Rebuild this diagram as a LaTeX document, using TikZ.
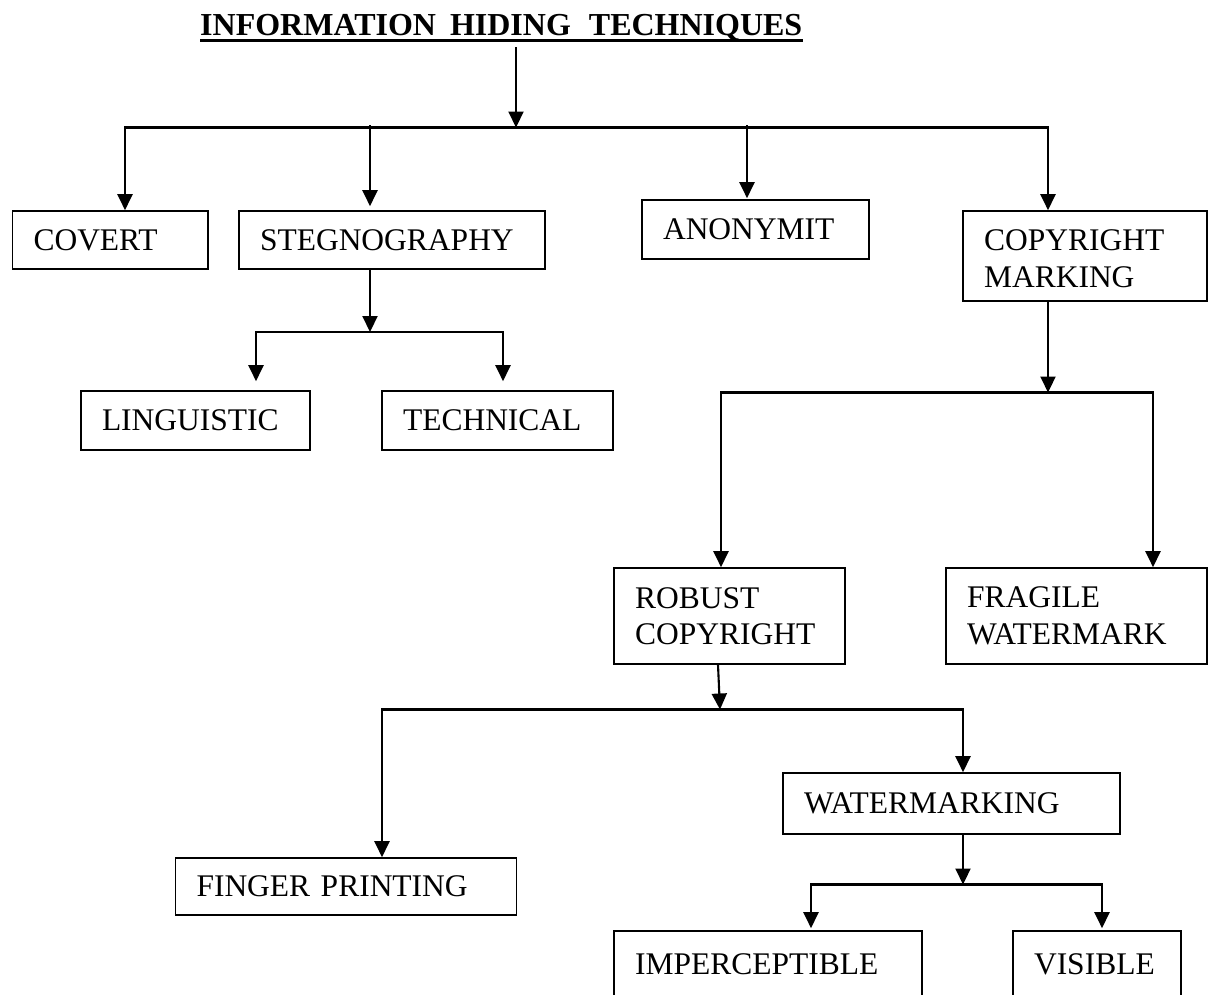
\documentclass[tikz,border=0pt]{standalone}
\usepackage{fontspec}
\setmainfont{Liberation Serif}
\usetikzlibrary{arrows.meta,calc}
\begin{document}
\begin{tikzpicture}[x=1pt,y=-1pt,
  box/.style={draw, line width=1.6pt, inner xsep=21pt, inner ysep=0pt,
    align=left, font=\fontsize{31.5}{36.5}\selectfont, anchor=center},
  link/.style={line width=2.1pt},
  bar/.style={line width=2.1pt, line cap=rect},
  arr/.style={link, -{Triangle[length=16pt,width=15pt]}},
]
\fill[white] (0,0) rectangle (1214,994);
\useasboundingbox (0,0) rectangle (1214,994);

% heading
\node[font=\bfseries\fontsize{32}{36}\selectfont, inner sep=0pt, anchor=base west]
  (title) at (200,35) {INFORMATION\hspace{14pt}HIDING\hspace{18pt}TECHNIQUES};
\draw[line width=3pt] ($(title.base west)+(0,5)$) -- ($(title.base east)+(0,5)$);

% first level
\node[box, minimum width=195.5pt, minimum height=58pt, text width=153.5pt] (covert) at (110.25,240) {COVERT};
\node[box, minimum width=306pt, minimum height=58pt, text width=264pt] (steg) at (392,240) {STEGNOGRAPHY};
\node[box, minimum width=227pt, minimum height=59pt, text width=185pt] (anon) at (755.5,229.5) {ANONYMIT};
\node[box, minimum width=244pt, minimum height=90pt, text width=202pt] (copy) at (1085,256) {\rule{0pt}{26pt}COPYRIGHT\\MARKING};

% steganography branch
\node[box, minimum width=229pt, minimum height=59pt, text width=187pt] (ling) at (195.5,420.5) {LINGUISTIC};
\node[box, minimum width=231pt, minimum height=59pt, text width=189pt] (tech) at (497.5,420.5) {TECHNICAL};

% copyright marking branch
\node[box, minimum width=231pt, minimum height=96pt, text width=189pt] (robust) at (729.5,616) {ROBUST\\COPYRIGHT};
\node[box, minimum width=261pt, minimum height=96pt, text width=219pt] (fragile) at (1076.5,616) {FRAGILE\\WATERMARK};

% robust copyright branch
\node[box, minimum width=341pt, minimum height=57pt, text width=299pt] (finger) at (346,886.5) {FINGER PRINTING};
\node[box, minimum width=337pt, minimum height=61pt, text width=295pt] (water) at (951.5,803.5) {WATERMARKING};

% watermarking branch
\node[box, minimum width=308pt, minimum height=66pt, text width=266pt] (imper) at (768,964) {IMPERCEPTIBLE};
\node[box, minimum width=166pt, minimum height=66pt, text width=126pt] (visible) at (1097,964) {VISIBLE};

% junction points
\coordinate (t0) at (516,47);
\coordinate (b1M) at (516,127.5);
\coordinate (b1L) at (125,127.5);
\coordinate (b1R) at (1048,127.5);
\coordinate (s1) at (370,125);
\coordinate (a1) at (747,125);
\coordinate (b2M) at (370,332);
\coordinate (b2L) at (256,332);
\coordinate (b2R) at (503,332);
\coordinate (b3M) at (1048,392.5);
\coordinate (b3L) at (721,392.5);
\coordinate (b3R) at (1153,392.5);
\coordinate (b4M) at (720,709.5);
\coordinate (b4L) at (382,709.5);
\coordinate (b4R) at (963,709.5);
\coordinate (b5M) at (963,884.5);
\coordinate (b5L) at (811,884.5);
\coordinate (b5R) at (1102,884.5);

% top level connectors
\draw[arr] (t0) -- (b1M);
\draw[bar] (b1L) -- (b1R);
\draw[arr] (b1L) -- (b1L |- covert.north);
\draw[arr] (s1) -- ($(s1 |- steg.north)+(0,-4)$);
\draw[arr] (a1) -- ($(a1 |- anon.north)+(0,-1)$);
\draw[arr] (b1R) -- (b1R |- copy.north);

% steganography connectors
\draw[arr] (steg.south -| b2M) -- (b2M);
\draw[bar] (b2L) -- (b2R);
\draw[arr] (b2L) -- ($(b2L |- ling.north)+(0,-9)$);
\draw[arr] (b2R) -- ($(b2R |- tech.north)+(0,-9)$);

% copyright marking connectors
\draw[arr] (copy.south -| b3M) -- (b3M);
\draw[bar] (b3L) -- (b3R);
\draw[arr] (b3L) -- (b3L |- robust.north);
\draw[arr] (b3R) -- (b3R |- fragile.north);

% robust copyright connectors
\draw[arr] ($(robust.south)+(-11.5,0)$) -- (b4M);
\draw[bar] (b4L) -- (b4R);
\draw[arr] (b4L) -- (b4L |- finger.north);
\draw[arr] (b4R) -- (b4R |- water.north);

% watermarking connectors
\draw[arr] (water.south -| b5M) -- (b5M);
\draw[bar] (b5L) -- (b5R);
\draw[arr] (b5L) -- ($(b5L |- imper.north)+(0,-2)$);
\draw[arr] (b5R) -- ($(b5R |- visible.north)+(0,-2)$);
\end{tikzpicture}
\end{document}
